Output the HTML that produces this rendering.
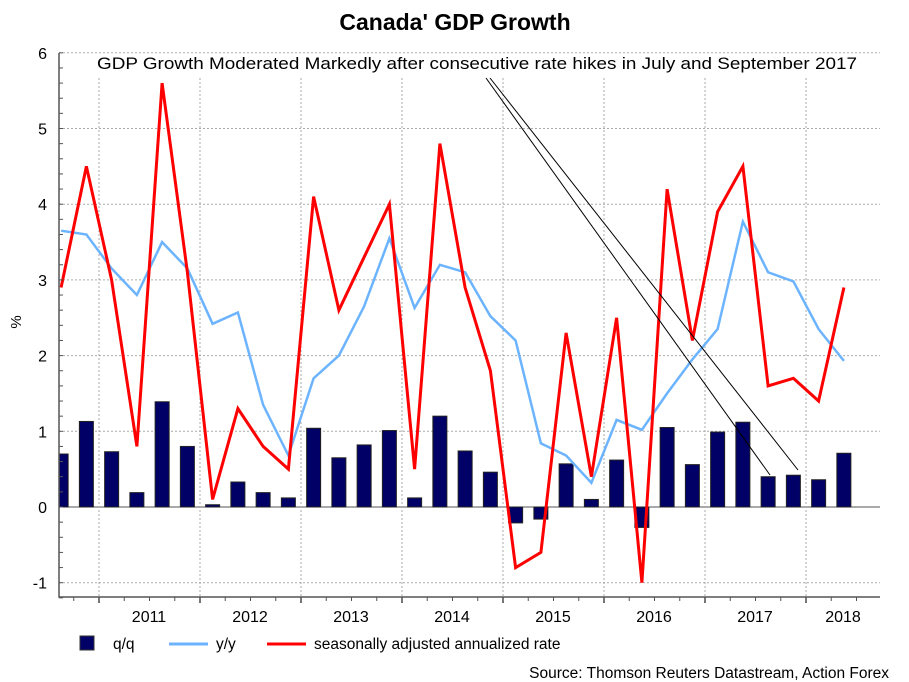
<!DOCTYPE html>
<html><head><meta charset="utf-8"><style>
body{margin:0;background:#fff}
svg{display:block;font-family:"Liberation Sans",Arial,sans-serif}
</style></head><body>
<svg id="chart" width="909" height="682">
<text x="455" y="30" text-anchor="middle" font-size="23" font-weight="bold">Canada' GDP Growth</text>
<g id="grid"></g>
<g id="bars" clip-path="url(#clip)"></g>
<defs><clipPath id="clip"><rect x="59" y="40" width="825" height="560"/></clipPath></defs>
<g id="lines" clip-path="url(#clip)"></g>
<line x1="486" y1="78" x2="770" y2="475" stroke="#000" stroke-width="1"/>
<line x1="490" y1="78" x2="798" y2="470" stroke="#000" stroke-width="1"/>
<text x="477" y="69" text-anchor="middle" font-size="16.5" textLength="760" lengthAdjust="spacingAndGlyphs">GDP Growth Moderated Markedly after consecutive rate hikes in July and September 2017</text>
<text x="21" y="322" font-size="15" transform="rotate(-90 21 322)" text-anchor="middle">%</text>
<g id="axes"></g>
<g>
<rect x="80" y="636" width="14" height="14" fill="#000066" stroke="#333"/>
<text x="113" y="649" font-size="15.5">q/q</text>
<line x1="169" y1="644" x2="208" y2="644" stroke="#6cb4ff" stroke-width="3"/>
<text x="216" y="649" font-size="15.5">y/y</text>
<line x1="267" y1="644" x2="306" y2="644" stroke="#ff0000" stroke-width="3"/>
<text x="314" y="649" font-size="15.5">seasonally adjusted annualized rate</text>
</g>
<text x="889" y="678" text-anchor="end" font-size="15.5">Source: Thomson Reuters Datastream, Action Forex</text>
</svg>
<script>
const quarters = ["2010Q3","2010Q4","2011Q1","2011Q2","2011Q3","2011Q4","2012Q1","2012Q2","2012Q3","2012Q4","2013Q1","2013Q2","2013Q3","2013Q4","2014Q1","2014Q2","2014Q3","2014Q4","2015Q1","2015Q2","2015Q3","2015Q4","2016Q1","2016Q2","2016Q3","2016Q4","2017Q1","2017Q2","2017Q3","2017Q4","2018Q1","2018Q2"];
const qoq = [0.70,1.13,0.73,0.19,1.39,0.80,0.03,0.33,0.19,0.12,1.04,0.65,0.82,1.01,0.12,1.20,0.74,0.46,-0.21,-0.16,0.57,0.10,0.62,-0.27,1.05,0.56,0.99,1.12,0.40,0.42,0.36,0.71];
const yoy = [3.65,3.60,3.15,2.80,3.50,3.15,2.42,2.57,1.35,0.68,1.70,2.00,2.65,3.55,2.63,3.20,3.10,2.52,2.20,0.84,0.68,0.32,1.15,1.02,1.50,1.95,2.35,3.77,3.10,2.98,2.35,1.93];
const saar = [2.9,4.5,3.0,0.8,5.6,3.1,0.1,1.3,0.8,0.5,4.1,2.6,3.3,4.0,0.5,4.8,2.9,1.8,-0.8,-0.6,2.3,0.4,2.5,-1.0,4.2,2.2,3.9,4.5,1.6,1.7,1.4,2.9];
const yTicks = [-1,0,1,2,3,4,5,6];
const years = ["2011","2012","2013","2014","2015","2016","2017","2018"];

const NS="http://www.w3.org/2000/svg";
const QW=101/4, X0=99-2*QW;
const xq=i=>X0+QW*(i+0.5);
const yv=v=>507-v*75.7;
function mk(tag,attrs,parent){const e=document.createElementNS(NS,tag);for(const k in attrs)e.setAttribute(k,attrs[k]);document.getElementById(parent).appendChild(e);return e;}

yTicks.forEach(t=>{
  const g=mk('line',{x1:59,x2:880,y1:yv(t),y2:yv(t),stroke:t===0?'#555':'#aaa','stroke-width':1,'stroke-dasharray':t===0?'':'2,2'},'grid');
  
  
  const l=mk('text',{x:47,y:yv(t)+6,'text-anchor':'end','font-size':16},'axes');
  l.textContent=t;
  
  
});
for(let v=-1.2;v<=6.001;v+=0.2){
  const m=mk('line',{x1:59,x2:63,y1:yv(v),y2:yv(v),stroke:'#555'},'axes');
  
  
}
years.forEach((y,k)=>{
  const x=99+101*k;
  if(x<880){
  const g=mk('line',{x1:x,x2:x,y1:78,y2:597,stroke:'#aaa','stroke-dasharray':'2,2'},'grid');
  
  
  const t=mk('line',{x1:x,x2:x,y1:597,y2:603,stroke:'#444','stroke-width':1.5},'axes');
  
  }
  const lx=Math.min(x+50,(x+880)/2);
  const l=mk('text',{x:lx,y:622,'text-anchor':'middle','font-size':16},'axes');
  l.textContent=y;
  
  
});
quarters.forEach((q,i)=>{
  const x=X0+QW*(i+1);
  const t=mk('line',{x1:x,x2:x,y1:597,y2:601,stroke:'#555'},'axes');
  
  
});
const ax=mk('path',{d:'M59 53 L59 597 L880 597',fill:'none',stroke:'#555','stroke-width':1.5},'axes');



qoq.forEach((v,i)=>{
  const y0=yv(0),y1=yv(v);
  const b=mk('rect',{x:xq(i)-7,y:Math.min(y0,y1),width:14,height:Math.abs(y1-y0),fill:'#000066',stroke:'#222','stroke-width':1},'bars');
  
  
});
function line(arr,col,name){
  const d=arr.map((v,i)=>(i?'L':'M')+xq(i).toFixed(1)+' '+yv(v).toFixed(1)).join(' ');
  const p=mk('path',{d:d,fill:'none',stroke:col,'stroke-width':name==='saar-line'?3:2.5,'stroke-linejoin':'miter'},'lines');
  
  
}
line(yoy,'#6cb4ff','yoy-line');
line(saar,'#ff0000','saar-line');
</script>
</body></html>
